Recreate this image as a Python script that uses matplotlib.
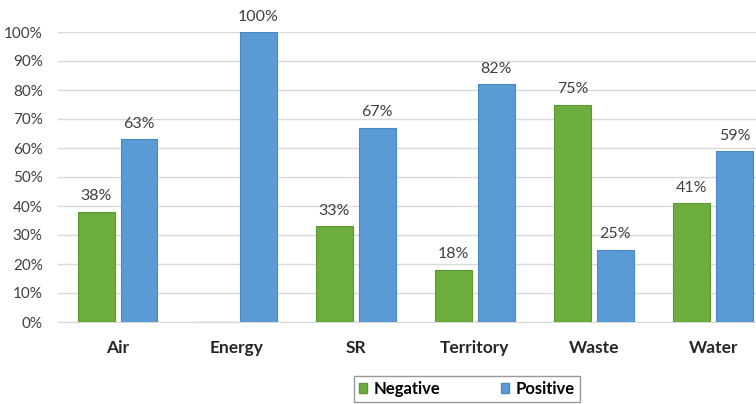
import matplotlib.pyplot as plt
import numpy as np
from matplotlib.patches import Patch

categories = ["Air", "Energy", "SR", "Territory", "Waste", "Water"]
negative = [0.38, 0.0, 0.33, 0.18, 0.75, 0.41]
positive = [0.63, 1.00, 0.67, 0.82, 0.25, 0.59]
negative_labels = ["38%", None, "33%", "18%", "75%", "41%"]
positive_labels = ["63%", "100%", "67%", "82%", "25%", "59%"]
y_ticks = np.arange(0, 1.01, 0.1)

GREEN = "#6cad3e"
GREEN_EDGE = "#5b9832"
BLUE = "#5b9bd5"
BLUE_EDGE = "#4a88c4"
TEXT = "#404040"

plt.rcParams["font.family"] = ["Lato", "DejaVu Sans"]

fig = plt.figure(figsize=(7.56, 4.04), dpi=100)
ax = fig.add_axes([58 / 756, 82 / 404, 1 - 58 / 756, 290 / 404])

x = np.arange(len(categories))
width = 0.31
offset = 0.18

neg_bars = ax.bar(x - offset, negative, width, color=GREEN, edgecolor=GREEN_EDGE, linewidth=0.8, zorder=3)
pos_bars = ax.bar(x + offset, positive, width, color=BLUE, edgecolor=BLUE_EDGE, linewidth=0.8, zorder=3)

# percentage labels above each bar (Energy has no negative share)
for bars, values, labels in ((neg_bars, negative, negative_labels), (pos_bars, positive, positive_labels)):
    for bar, value, label in zip(bars, values, labels):
        if label is None:
            continue
        ax.annotate(label, (bar.get_x() + bar.get_width() / 2, value),
                    xytext=(0, 6), textcoords="offset points",
                    ha="center", va="bottom", fontsize=11.5, color=TEXT,
                    annotation_clip=False)

ax.set_xlim(-0.5, 5.36)
ax.set_ylim(0, 1.0)
ax.set_yticks(y_ticks)
ax.set_yticklabels([f"{int(round(v * 100))}%" for v in y_ticks], fontsize=11, color=TEXT)
ax.set_xticks(x)
ax.set_xticklabels(categories, fontsize=12.5, fontweight="bold", color="#262626")
ax.tick_params(axis="y", length=0, pad=11)
ax.tick_params(axis="x", length=0, pad=13)
ax.grid(axis="y", color="#d9d9d9", linewidth=1, zorder=0)
for side in ("top", "right", "left"):
    ax.spines[side].set_visible(False)
ax.spines["bottom"].set_color("#d9d9d9")

handles = [Patch(facecolor=GREEN, edgecolor=GREEN_EDGE), Patch(facecolor=BLUE, edgecolor=BLUE_EDGE)]
fig.legend(handles, ["Negative", "Positive"], loc="upper center",
           bbox_to_anchor=(467 / 756, 1 - 376 / 404), borderaxespad=0, ncol=2, frameon=True,
           fancybox=False, edgecolor="#7f7f7f", handlelength=0.5, handleheight=0.5,
           handletextpad=0.4, columnspacing=3.6, borderpad=0.3,
           prop={"weight": "bold", "size": 12})

fig.savefig("out.png", dpi=100)
